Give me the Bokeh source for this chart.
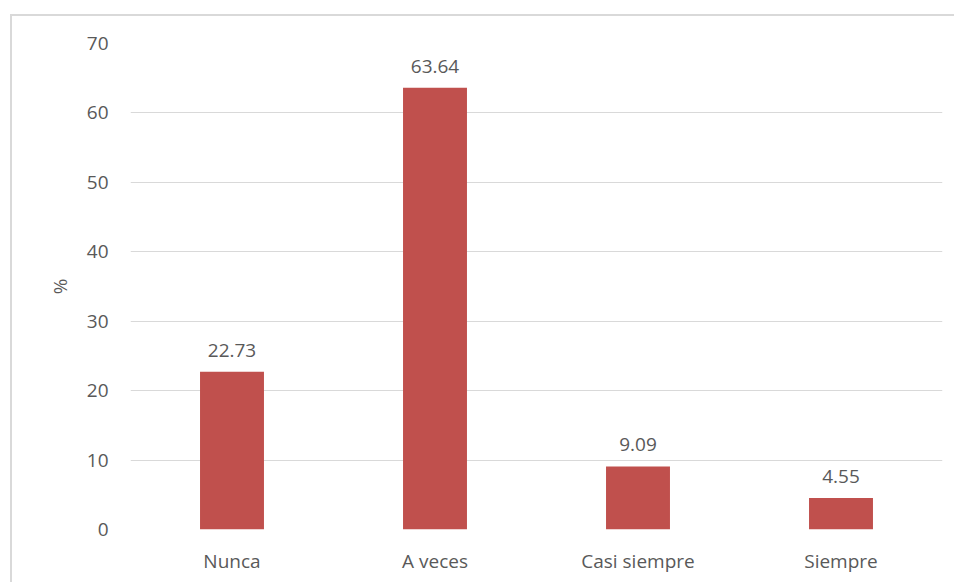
from bokeh.plotting import figure
from bokeh.models import ColumnDataSource, LabelSet, Range1d, FixedTicker
from bokeh.core.properties import value
from bokeh.embed import file_html
from bokeh.resources import INLINE

categories = ["Nunca", "A veces", "Casi siempre", "Siempre"]
values = [22.73, 63.64, 9.09, 4.55]
labels = ["22.73", "63.64", "9.09", "4.55"]
y_ticks = [0, 10, 20, 30, 40, 50, 60, 70]

FONT = "Open Sans"
TXT = "#595959"
GRID = "#d9d9d9"

src = ColumnDataSource(dict(cat=categories, val=values, lab=labels))

p = figure(x_range=categories, y_range=Range1d(0, 70), width=944, height=568,
           output_backend="svg", toolbar_location=None,
           min_border_left=118, min_border_right=14, min_border_top=27, min_border_bottom=55)
p.outline_line_color = None
p.background_fill_color = "white"
p.border_fill_color = "white"
p.margin = (14, 0, 0, 10)
p.styles = {"border-top": "2px solid #d9d9d9", "border-left": "2px solid #d9d9d9"}

p.vbar(x="cat", top="val", width=0.315, source=src, fill_color="#C0504D", line_color=None)

p.add_layout(LabelSet(x="cat", y="val", text="lab", source=src, text_align="center",
                      text_baseline="bottom", y_offset=15, text_font=value(FONT),
                      text_font_size=value("19px"), text_color=TXT))

p.yaxis.ticker = FixedTicker(ticks=y_ticks)
p.ygrid.ticker = FixedTicker(ticks=y_ticks)
p.ygrid.grid_line_color = GRID
p.xgrid.grid_line_color = None
for ax in (p.xaxis, p.yaxis):
    ax.axis_line_color = None
    ax.major_tick_line_color = None
    ax.minor_tick_line_color = None
    ax.major_label_text_font = FONT
    ax.major_label_text_font_size = "19px"
    ax.major_label_text_color = TXT
p.yaxis.major_label_standoff = 16
p.xaxis.major_label_standoff = 12
p.yaxis.axis_label = "%"
p.yaxis.axis_label_text_font = FONT
p.yaxis.axis_label_text_font_size = "19px"
p.yaxis.axis_label_text_font_style = "normal"
p.yaxis.axis_label_text_color = TXT
p.yaxis.axis_label_standoff = 11

open("out.html", "w").write(file_html(p, INLINE))
